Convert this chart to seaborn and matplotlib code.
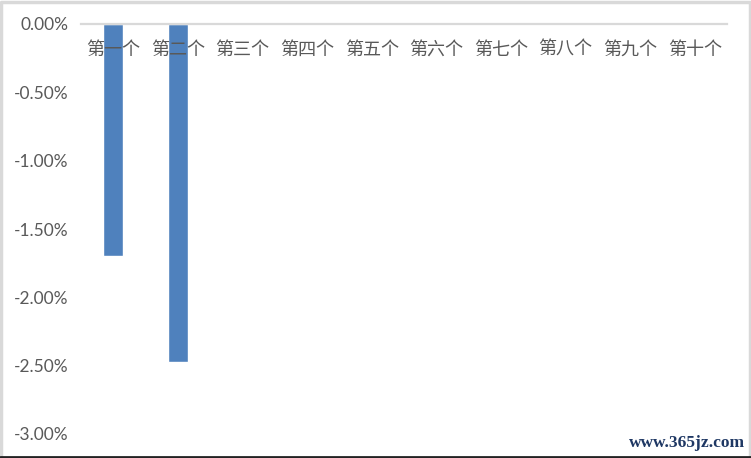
import matplotlib
matplotlib.use('Agg')
import matplotlib.pyplot as plt
import seaborn as sns
from matplotlib.ticker import FuncFormatter
from matplotlib.lines import Line2D

# chart data
categories = ['第一个', '第二个', '第三个', '第四个', '第五个',
              '第六个', '第七个', '第八个', '第九个', '第十个']
values = [-1.70, -2.47, 0, 0, 0, 0, 0, 0, 0, 0]
y_ticks = [0.0, -0.5, -1.0, -1.5, -2.0, -2.5, -3.0]

sns.set_style('white')
plt.rcParams['font.family'] = ['Noto Sans CJK SC', 'DejaVu Sans']

W, H = 751, 458
fig = plt.figure(figsize=(W / 100, H / 100), dpi=100)
ax = fig.add_axes([81 / W, 1 - 434 / H, (727 - 81) / W, (434 - 24) / H])

sns.barplot(x=categories, y=values, color='#4f81bd', width=0.31,
            saturation=1, ax=ax)
ax.set_axisbelow(False)  # labels are drawn over the bars

ax.set_ylim(-3.0, 0.0)
ax.set_xlim(-0.5, len(categories) - 0.5)
ax.set_yticks(y_ticks)
ax.yaxis.set_major_formatter(FuncFormatter(lambda v, p: f'{v:.2f}%'))
for lab in ax.get_yticklabels():
    lab.set_family('Lato')
ax.tick_params(axis='y', length=0, pad=9, labelsize=12.5, labelcolor='#595959')

# category labels sit just below the zero line
ax.tick_params(axis='x', bottom=False, labelbottom=False, top=False,
               labeltop=True, length=0, pad=-25, labelsize=13,
               labelcolor='#595959')
for lab in ax.get_xticklabels():
    lab.set_va('bottom')

for side in ['left', 'right', 'bottom']:
    ax.spines[side].set_visible(False)
ax.spines['top'].set_color('#d9d9d9')
ax.spines['top'].set_linewidth(1.6)
ax.set_xlabel('')
ax.set_ylabel('')

# outer frame of the chart area
fig.add_artist(Line2D([0.5 / W, 0.5 / W, 1 - 1.5 / W, 1 - 1.5 / W],
                      [2 / H, 1 - 1.5 / H, 1 - 1.5 / H, 2 / H],
                      transform=fig.transFigure, color='#d9d9d9', lw=2.5))
fig.add_artist(Line2D([0, 1], [1 / H, 1 / H], transform=fig.transFigure,
                      color='#222222', lw=2))

fig.text(745 / W, 1 - 443 / H, 'www.365jz.com', ha='right', va='center',
         family='Liberation Serif', fontweight='bold', fontsize=12.5,
         color='#1f3864')

fig.savefig('out.png', dpi=100)
